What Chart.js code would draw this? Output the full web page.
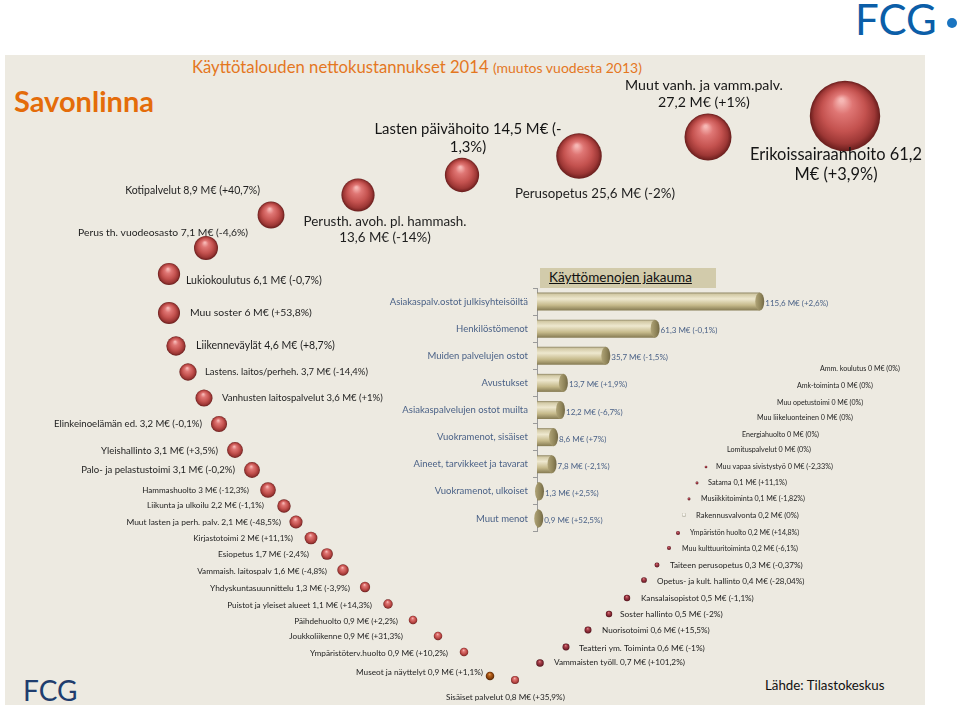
<!DOCTYPE html>
<html><head><meta charset="utf-8">
<script src="https://cdn.jsdelivr.net/npm/chart.js@4.4.1/dist/chart.umd.min.js"></script>
<style>
html,body{margin:0;padding:0;background:#fff;width:960px;height:705px;overflow:hidden;font-family:Lato,"Open Sans",sans-serif;}
#panel{position:absolute;left:5px;top:55px;width:920px;height:650px;background:#edeae1;}
canvas{position:absolute;}
#bubbles{left:-40px;top:-40px;}
#bars{left:370px;top:288px;}
.t{position:absolute;white-space:nowrap;line-height:1;}
#jak{position:absolute;left:540px;top:268px;width:176px;height:20px;background:#d2cbab;}
#jak span{position:absolute;left:9px;top:3px;font-size:13.5px;color:#111;text-decoration:underline;line-height:1;}
</style></head><body>
<div id="panel"></div>
<div class="t" style="left:855px;top:-2px;font-size:42px;color:#0b5ea8;">FCG</div>
<div style="position:absolute;left:947px;top:18px;width:10px;height:10px;border-radius:50%;background:#1a74c0;"></div>
<div class="t" style="left:14px;top:86px;font-size:29px;font-weight:bold;color:#e46c0a;">Savonlinna</div>
<div class="t" style="left:192px;top:59px;font-size:16.7px;color:#e4771f;">Käyttötalouden nettokustannukset 2014 <span style="font-size:14px">(muutos vuodesta 2013)</span></div>
<div class="t" style="left:23px;top:676px;font-size:28px;color:#1f3d6e;">FCG</div>
<div class="t" style="left:765px;top:679px;font-size:13.3px;color:#111;">Lähde: Tilastokeskus</div>
<div id="jak"><span>Käyttömenojen jakauma</span></div>
<canvas id="bubbles" width="1040" height="785"></canvas>
<canvas id="bars" width="483" height="244"></canvas>
<script>
// ---------- DATA: net operating costs 2014 (M€) and change from 2013 (%) ----------
const serviceNames = [
 "Erikoissairaanhoito","Muut vanh. ja vamm.palv.","Perusopetus","Lasten päivähoito","Perusth. avoh. pl. hammash.",
 "Kotipalvelut","Perus th. vuodeosasto","Lukiokoulutus","Muu soster","Liikenneväylät",
 "Lastens. laitos/perheh.","Vanhusten laitospalvelut","Elinkeinoelämän ed.","Yleishallinto","Palo- ja pelastustoimi",
 "Hammashuolto","Liikunta ja ulkoilu","Muut lasten ja perh. palv.","Kirjastotoimi","Esiopetus",
 "Vammaish. laitospalv","Yhdyskuntasuunnittelu","Puistot ja yleiset alueet","Päihdehuolto","Joukkoliikenne",
 "Ympäristöterv.huolto","Museot ja näyttelyt","Sisäiset palvelut","Vammaisten työll.","Teatteri ym. Toiminta",
 "Nuorisotoimi","Soster hallinto","Kansalaisopistot","Opetus- ja kult. hallinto","Taiteen perusopetus",
 "Muu kulttuuritoiminta","Ympäristön huolto","Rakennusvalvonta","Musiikkitoiminta","Satama",
 "Muu vapaa sivistystyö","Lomituspalvelut","Energiahuolto","Muu liikeluonteinen","Muu opetustoimi",
 "Amk-toiminta","Amm. koulutus"];
const serviceValues = [
 61.2,27.2,25.6,14.5,13.6, 8.9,7.1,6.1,6,4.6, 3.7,3.6,3.2,3.1,3.1, 3,2.2,2.1,2,1.7,
 1.6,1.3,1.1,0.9,0.9, 0.9,0.9,0.8,0.7,0.6, 0.6,0.5,0.5,0.4,0.3, 0.2,0.2,0.2,0.1,0.1,
 0,0,0,0,0, 0,0];
const serviceChanges = [
 3.9,1,-2,-1.3,-14, 40.7,-4.6,-0.7,53.8,8.7, -14.4,1,-0.1,3.5,-0.2, -12.3,-1.1,-48.5,11.1,-2.4,
 -4.8,-3.9,14.3,2.2,31.3, 10.2,1.1,35.9,101.2,-1, 15.5,-2,-1.1,-28.04,-0.37, -6.1,14.8,0,-1.82,11.1,
 -2.33,0,0,0,0, 0,0];

const costCategories = ["Asiakaspalv.ostot julkisyhteisöiltä","Henkilöstömenot","Muiden palvelujen ostot","Avustukset",
 "Asiakaspalvelujen ostot muilta","Vuokramenot, sisäiset","Aineet, tarvikkeet ja tavarat","Vuokramenot, ulkoiset","Muut menot"];
const costValues = [115.6,61.3,35.7,13.7,12.2,8.6,7.8,1.3,0.9];
const costChanges = [2.6,-0.1,-1.5,1.9,-6.7,7,-2.1,2.5,52.5];

// ---------- LAYOUT (infographic placement of bubbles and their labels) ----------
// [slotX, slotY, labelDx, labelDy, align, labelWidth(first line), lineBreakAt, tone]
const layout = [
 [845,116, -9, 39,'c',172,24,'red'],
 [708,137, -4,-52,'c',158,24,'red'],
 [579,156, 16, 38,'c',160,0,'red'],
 [462,175,  6,-46,'c',187,28,'red'],
 [358,195, 27, 27,'c',163,27,'red'],
 [271,215,-11,-24,'r',135,0,'red'],
 [206,248, 42,-15,'r',170,0,'red'],
 [169,274, 17,  7,'l',136,0,'red'],
 [169,313, 21,  0,'l',122,0,'red'],
 [176,346, 20,  0,'l',139,0,'red'],
 [188,372, 17,  0,'l',163,0,'red'],
 [204,398, 18,  0,'l',161,0,'red'],
 [219,424,-17,  0,'r',148,0,'red'],
 [235,450,-17,  1,'r',117,0,'red'],
 [252,470,-17,  0,'r',154,0,'red'],
 [268,490,-19,  0,'r',107,0,'red'],
 [284,506,-20, -1,'r',117,0,'red'],
 [296,522,-15,  0,'r',155,0,'red'],
 [311,538,-18,  0,'r',100,0,'red'],
 [327,554,-18,  0,'r',91,0,'red'],
 [343,570,-16,  1,'r',130,0,'red'],
 [365,587,-15,  1,'r',140,0,'red'],
 [388,604,-16,  1,'r',145,0,'red'],
 [413,620,-15,  1,'r',104,0,'red'],
 [438,636,-35,  0,'r',114,0,'red'],
 [464,652,-16,  1,'r',138,0,'red'],
 [490,676, -7, -4,'r',127,0,'brown'],
 [515,680,-69, 17,'l',119,0,'red'],
 [540,663, 14, -1,'l',131,0,'dark'],
 [566,647, 13,  1,'l',126,0,'dark'],
 [588,630, 14,  0,'l',108,0,'dark'],
 [609,614, 11,  0,'l',103,0,'dark'],
 [627,598, 14,  0,'l',113,0,'dark'],
 [644,580, 13,  1,'l',148,0,'dark'],
 [657,565, 13,  0,'l',133,0,'dark'],
 [669,548, 13,  1,'l',116,0,'dark'],
 [678,533, 12,  0,'l',109,0,'dark'],
 [684,515, 12,  1,'l',103,0,'light'],
 [689,499, 12,  0,'l',104,0,'dark'],
 [697,483, 11,  0,'l',79,0,'dark'],
 [706,467, 10,  0,'l',117,0,'dark'],
 [717,450, 10,  0,'l',84,0,'dark'],
 [731,435, 11,  0,'l',77,0,'dark'],
 [746,418, 11,  0,'l',96,0,'dark'],
 [766,403, 11,  0,'l',86,0,'dark'],
 [786,386, 11,  0,'l',76,0,'dark'],
 [809,369, 11,  0,'l',80,0,'dark']
];
const PAGE_W = 960, PAGE_H = 705, CANVAS_OFFSET = 40;

const fmt = v => String(v).replace('.', ',');
const fmtChange = c => (c > 0 ? '+' : '') + fmt(c) + '%';
const labelText = i => serviceNames[i] + ' ' + fmt(serviceValues[i]) + ' M€ (' + fmtChange(serviceChanges[i]) + ')';
const radiusFor = i => {
  const v = serviceValues[i];
  if (v === 0) return serviceChanges[i] !== 0 ? 1.3 : 0;
  return 4.5 * Math.sqrt(v);
};
const radii = serviceValues.map((v, i) => radiusFor(i));
const overflow = Math.max(...radii); // bubble chart reserves this much room on every side

const tones = {
  red:   [[0,'#f6b7b4'],[0.25,'#df7674'],[0.6,'#c4524f'],[0.85,'#9d3735'],[1,'#671d1c']],
  brown: [[0,'#e0a060'],[0.3,'#b8621c'],[0.7,'#8a420c'],[1,'#4d2204']],
  dark:  [[0,'#d77a80'],[0.35,'#a8404a'],[0.75,'#7c2430'],[1,'#4c1018']],
  light: [[0,'#ffffff'],[0.6,'#ece8dc'],[1,'#9a9a8c']]
};

function sphereFill(c) {
  const ch = c.chart, raw = c.raw;
  if (!raw || !ch.scales || !ch.scales.x || !ch.scales.y) return '#c4524f';
  const cx = ch.scales.x.getPixelForValue(raw.x), cy = ch.scales.y.getPixelForValue(raw.y);
  const r = Math.max(raw.r, 0.5);
  if (!isFinite(cx) || !isFinite(cy)) return '#c4524f';
  const g = ch.ctx.createRadialGradient(cx - r*0.1, cy - r*0.45, r*0.05, cx, cy, r);
  tones[layout[c.dataIndex][7]].forEach(s => g.addColorStop(s[0], s[1]));
  return g;
}

const FONT = 'Lato, "Open Sans", sans-serif';
const bubbleLabels = {
  id: 'bubbleLabels',
  afterDatasetsDraw(chart) {
    const ctx = chart.ctx;
    chart.getDatasetMeta(0).data.forEach((el, i) => {
      const L = layout[i];
      const txt = labelText(i);
      const lines = L[6] ? [txt.slice(0, L[6]).trim(), txt.slice(L[6]).trim()] : [txt];
      ctx.save();
      ctx.font = '10px ' + FONT;
      const size = 10 * L[5] / ctx.measureText(lines[0]).width;
      ctx.font = size.toFixed(2) + 'px ' + FONT;
      ctx.fillStyle = size >= 14 ? '#151515' : '#1e1e1e';
      ctx.textBaseline = 'middle';
      ctx.textAlign = L[4] === 'c' ? 'center' : (L[4] === 'r' ? 'right' : 'left');
      const lh = size * 1.2;
      lines.forEach((ln, k) => ctx.fillText(ln, el.x + L[2], el.y + L[3] + k * lh));
      ctx.restore();
    });
  }
};

new Chart(document.getElementById('bubbles'), {
  type: 'bubble',
  data: {
    datasets: [{
      data: serviceNames.map((n, i) => ({ x: layout[i][0], y: layout[i][1], r: radii[i] })),
      backgroundColor: sphereFill,
      borderWidth: 0,
      clip: false
    }]
  },
  options: {
    responsive: false, animation: false, events: [],
    layout: { padding: 0 },
    plugins: { legend: { display: false }, tooltip: { enabled: false } },
    scales: {
      x: { display: false, min: overflow - CANVAS_OFFSET, max: PAGE_W + CANVAS_OFFSET - overflow },
      y: { display: false, min: overflow - CANVAS_OFFSET, max: PAGE_H + CANVAS_OFFSET - overflow, reverse: true }
    }
  },
  plugins: [bubbleLabels]
});

// ---------- bar chart: Käyttömenojen jakauma ----------
function barFill(c) {
  const ch = c.chart, ys = ch.scales ? ch.scales.y : null;
  if (!ys) return '#c8bd8e';
  const cy = ys.getPixelForValue(c.dataIndex), h = 18;
  if (!isFinite(cy)) return '#c8bd8e';
  const g = ch.ctx.createLinearGradient(0, cy - h/2, 0, cy + h/2);
  g.addColorStop(0, '#8f8664');
  g.addColorStop(0.1, '#d3caa6');
  g.addColorStop(0.35, '#eee8cf');
  g.addColorStop(0.7, '#c6ba8b');
  g.addColorStop(1, '#857a52');
  return g;
}
const barDecor = {
  id: 'barDecor',
  afterDatasetsDraw(chart) {
    const ctx = chart.ctx;
    chart.getDatasetMeta(0).data.forEach((el, i) => {
      const h = el.height, x = el.x, y = el.y;
      ctx.save();
      const g = ctx.createLinearGradient(x - 5, 0, x + 5, 0);
      g.addColorStop(0, '#b3a77a'); g.addColorStop(0.6, '#8f8459'); g.addColorStop(1, '#6e6442');
      ctx.fillStyle = g;
      ctx.beginPath(); ctx.ellipse(x, y, 4.5, h/2, 0, 0, Math.PI*2); ctx.fill();
      ctx.font = '8px ' + FONT;
      ctx.fillStyle = '#4b6287';
      ctx.textBaseline = 'middle'; ctx.textAlign = 'left';
      ctx.fillText(fmt(costValues[i]) + ' M€ (' + fmtChange(costChanges[i]) + ')', x + 5.5, y + 2);
      ctx.restore();
    });
  }
};
new Chart(document.getElementById('bars'), {
  type: 'bar',
  data: { labels: costCategories, datasets: [{ data: costValues, backgroundColor: barFill, borderWidth: 0, barPercentage: 0.9, categoryPercentage: 0.74 }] },
  options: {
    indexAxis: 'y', responsive: false, animation: false, events: [],
    layout: { padding: 0 },
    plugins: { legend: { display: false }, tooltip: { enabled: false } },
    scales: {
      x: { display: false, min: 0, max: 164 },
      y: {
        afterFit(s) { s.width = 167; s.paddingTop = 0; s.paddingBottom = 0; },
        grid: { display: true, drawOnChartArea: false, offset: true, color: '#9a9a9a', tickLength: 4 },
        border: { display: true, color: '#9a9a9a' },
        ticks: { color: '#4b6287', font: { family: 'Lato', size: 9.5 }, padding: 5 }
      }
    }
  },
  plugins: [barDecor]
});
</script>
</body></html>
